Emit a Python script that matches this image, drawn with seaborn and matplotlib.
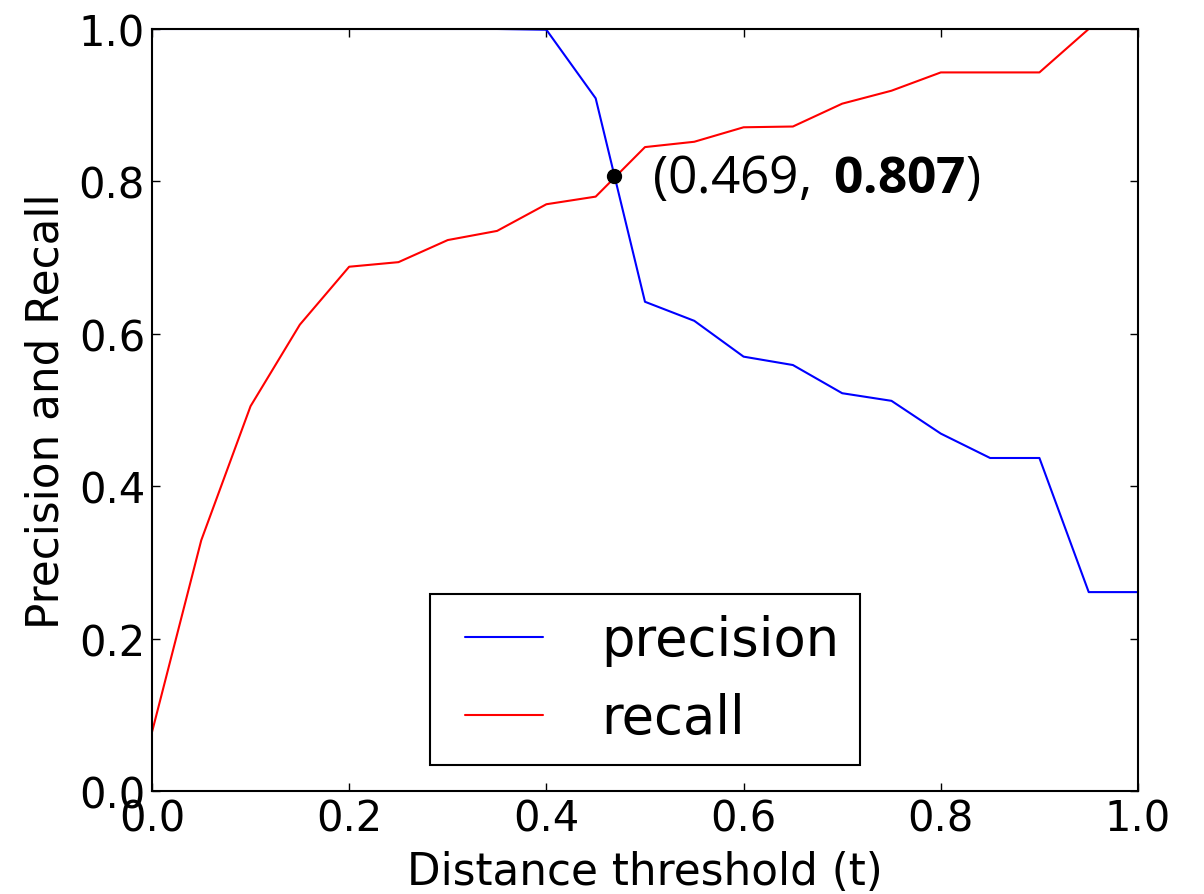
import numpy as np
import pandas as pd
import matplotlib
matplotlib.use("Agg")
import matplotlib.pyplot as plt
from matplotlib.legend_handler import HandlerLine2D
import seaborn as sns

# ---- data ----
thresholds = [0.00, 0.05, 0.10, 0.15, 0.20, 0.25, 0.30, 0.35, 0.40, 0.45, 0.50,
              0.55, 0.60, 0.65, 0.70, 0.75, 0.80, 0.85, 0.90, 0.95, 1.00]
precision = [1.000, 1.000, 1.000, 1.000, 1.000, 1.000, 1.000, 1.000, 0.999, 0.909, 0.642,
             0.617, 0.570, 0.559, 0.522, 0.512, 0.469, 0.437, 0.437, 0.261, 0.261]
recall = [0.077, 0.329, 0.505, 0.612, 0.688, 0.694, 0.723, 0.735, 0.770, 0.780, 0.845,
          0.852, 0.871, 0.872, 0.902, 0.919, 0.943, 0.943, 0.943, 1.000, 1.000]
series_names = ["precision", "recall"]
series_colors = ["blue", "red"]
cross_x = 0.469
cross_y = 0.807
x_label = "Distance threshold (t)"
y_label = "Precision and Recall"
tick_vals = [0.0, 0.2, 0.4, 0.6, 0.8, 1.0]
tick_labels = ["0.0", "0.2", "0.4", "0.6", "0.8", "1.0"]

df = pd.DataFrame({
    "t": thresholds * 2,
    "value": precision + recall,
    "series": [series_names[0]] * len(thresholds) + [series_names[1]] * len(thresholds),
})

sns.set_theme(style="ticks")
plt.rcParams["font.family"] = ["DejaVu Sans"]
plt.rcParams["text.color"] = "black"
plt.rcParams["axes.labelcolor"] = "black"
plt.rcParams["xtick.color"] = "black"
plt.rcParams["ytick.color"] = "black"
plt.rcParams["mathtext.fontset"] = "custom"
plt.rcParams["mathtext.rm"] = "Open Sans"
plt.rcParams["mathtext.bf"] = "Open Sans:bold"

fig = plt.figure(figsize=(12.04, 8.95), dpi=100)
ax = fig.add_axes([0.1262, 0.1151, 0.8190, 0.8514])

sns.lineplot(data=df, x="t", y="value", hue="series",
             palette=dict(zip(series_names, series_colors)),
             linewidth=1.5, ax=ax, legend=True)

ax.plot([cross_x], [cross_y], "o", color="black", markersize=10, zorder=5)
ax.annotate(r"(0.469, $\,\mathbf{0.807}$)", xy=(cross_x, cross_y),
            xytext=(27, -1.5), textcoords="offset points", color="black",
            fontsize=37, family="Open Sans", va="center", ha="left")

ax.set_xlim(0, 1)
ax.set_ylim(0, 1)
ax.set_xticks(tick_vals)
ax.set_yticks(tick_vals)
ax.set_xticklabels(tick_labels)
ax.set_yticklabels(tick_labels)
ax.tick_params(direction="in", length=6, width=1, labelsize=30, pad=5,
               top=True, right=True, colors="black", labelcolor="black")
for s in ax.spines.values():
    s.set_visible(True)
    s.set_linewidth(1.5)
    s.set_color("black")
ax.set_xlabel(x_label, fontsize=31.5, labelpad=7, color="black")
ax.set_ylabel(y_label, fontsize=31.5, labelpad=8, color="black")

handles, labels = ax.get_legend_handles_labels()
leg = ax.legend(handles, labels, loc="lower center", fontsize=38,
                frameon=True, fancybox=False, framealpha=1,
                edgecolor="black", handlelength=1.75, handletextpad=1.12,
                borderpad=0.39, labelspacing=0.49,
                handler_map={h: HandlerLine2D(xpad=0.29) for h in handles})
leg.get_frame().set_linewidth(1.5)
for t in leg.get_texts():
    t.set_color("black")
for ln in leg.get_lines():
    ln.set_linewidth(1.5)

fig.savefig("out.png", dpi=100)
